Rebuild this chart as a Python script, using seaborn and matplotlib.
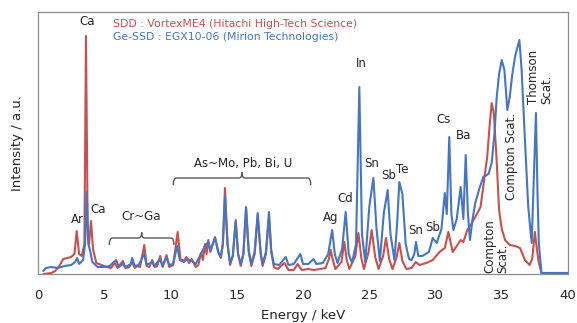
import numpy as np
import pandas as pd
import seaborn as sns
import matplotlib.pyplot as plt
from matplotlib.path import Path
from matplotlib.patches import PathPatch

# spectra (energy in keV, intensity in a.u.)
sdd_energy = [0.4, 1.0, 1.3, 1.6, 1.9, 2.2, 2.5, 2.75, 2.92, 3.1, 3.3, 3.5, 3.62, 3.75, 3.85, 4.0, 4.15,
              4.4, 4.8, 5.2, 5.5, 5.8, 6.0, 6.4, 6.6, 6.9, 7.1, 7.3, 7.5, 7.7, 8.02, 8.2, 8.4, 8.62, 8.8,
              9.0, 9.22, 9.4, 9.7, 9.9, 10.2, 10.54, 10.75, 11.0, 11.2, 11.4, 11.6, 11.9, 12.1, 12.3,
              12.45, 12.6, 12.72, 12.85, 13.0, 13.2, 13.36, 13.6, 13.8, 13.95, 14.11, 14.3, 14.5, 14.7,
              14.92, 15.1, 15.3, 15.5, 15.7, 15.9, 16.1, 16.35, 16.58, 16.8, 16.95, 17.2, 17.43, 17.6,
              17.8, 18.1, 18.6, 18.9, 19.3, 19.6, 19.9, 20.4, 20.8, 21.3, 21.7, 21.95, 22.09, 22.25,
              22.45, 22.9, 23.12, 23.3, 23.5, 23.95, 24.18, 24.4, 24.6, 24.95, 25.18, 25.45, 25.7,
              26.05, 26.26, 26.5, 26.75, 27.05, 27.27, 27.5, 27.8, 28.2, 28.5, 28.8, 29.3, 29.8, 30.3,
              30.7, 30.97, 31.3, 31.6, 31.9, 32.1, 32.4, 32.7, 33.0, 33.4, 33.6, 33.9, 34.1, 34.24,
              34.4, 34.6, 34.8, 35.0, 35.25, 35.6, 36.0, 36.38, 36.75, 37.1, 37.3, 37.5, 37.65, 37.8,
              38.0, 40.0]
sdd_counts = [0, 1, 3, 8, 15, 16, 17, 20, 43, 20, 18, 30, 238, 40, 30, 53, 25,
              11, 9, 7, 6, 11, 6, 13, 6, 7, 12, 6, 8, 7, 29, 8, 7, 14, 7,
              8, 18, 7, 19, 7, 9, 42, 15, 13, 17, 11, 15, 7, 9, 21,
              14, 30, 20, 34, 22, 30, 37, 22, 16, 30, 86, 30, 9, 18,
              54, 20, 8, 20, 66, 22, 8, 20, 59, 20, 8, 20, 57, 22,
              7, 5, 11, 4, 4, 10, 4, 5, 4, 5, 6, 15, 24, 14,
              5, 12, 32, 14, 5, 18, 41, 16, 5, 22, 44, 17, 5,
              18, 36, 15, 5, 16, 31, 13, 5, 6, 12, 9, 11, 14, 22,
              26, 42, 22, 28, 34, 32, 44, 50, 57, 67, 87, 117, 151, 171,
              161, 117, 64, 45, 34, 29, 28, 26, 14, 9, 15, 42, 25, 11,
              1, 1]

ge_energy = [0.4, 0.6, 1.0, 1.5, 2.0, 2.5, 2.8, 2.95, 3.1, 3.4, 3.55, 3.67, 3.8, 3.95, 4.1, 4.5, 5.0,
             5.4, 5.9, 6.1, 6.4, 6.6, 7.0, 7.1, 7.3, 7.6, 8.0, 8.2, 8.6, 8.8, 9.2, 9.4, 9.7, 9.9,
             10.2, 10.5, 10.7, 11.0, 11.3, 11.6, 11.9, 12.3, 12.6, 12.85, 13.0, 13.36, 13.6, 13.8,
             13.95, 14.11, 14.3, 14.5, 14.7, 14.92, 15.1, 15.3, 15.5, 15.7, 15.9, 16.1, 16.35, 16.58,
             16.8, 16.95, 17.2, 17.43, 17.6, 17.8, 18.2, 18.7, 18.9, 19.3, 19.8, 20.0, 20.4, 20.8,
             21.0, 21.5, 21.9, 22.2, 22.4, 22.6, 22.95, 23.22, 23.45, 23.7, 24.0, 24.25, 24.45, 24.7,
             25.0, 25.31, 25.55, 25.8, 26.1, 26.39, 26.6, 26.9, 27.1, 27.27, 27.5, 27.75, 28.0, 28.2,
             28.4, 28.53, 28.7, 29.0, 29.5, 29.79, 30.09, 30.45, 30.7, 30.85, 31.04, 31.2, 31.35,
             31.6, 31.9, 32.1, 32.28, 32.45, 32.6, 32.8, 33.0, 33.3, 33.6, 34.0, 34.24, 34.45, 34.62,
             34.8, 35.0, 35.2, 35.42, 35.6, 35.8, 36.0, 36.15, 36.33, 36.5, 36.75, 37.0, 37.26,
             37.45, 37.58, 37.7, 37.8, 38.0, 40.0]
ge_counts = [3, 6, 7, 6, 8, 9, 12, 16, 10, 14, 30, 82, 30, 22, 12, 7, 7,
             8, 14, 7, 10, 7, 10, 16, 8, 9, 20, 9, 12, 8, 15, 8, 17, 9,
             10, 28, 14, 12, 15, 13, 10, 20, 28, 32, 24, 36, 22, 17,
             30, 78, 30, 11, 18, 52, 20, 10, 20, 67, 24, 10, 22, 61,
             22, 10, 22, 62, 24, 10, 9, 17, 9, 10, 20, 10, 10, 15,
             10, 11, 20, 44, 20, 11, 25, 62, 20, 11, 30, 187, 40, 12,
             67, 96, 45, 13, 61, 84, 40, 14, 50, 92, 80, 30, 15, 14,
             20, 32, 18, 18, 22, 36, 31, 45, 81, 60, 137, 60, 44,
             55, 87, 55, 119, 60, 34, 55, 71, 85, 97, 100, 111, 140, 177,
             200, 214, 204, 164, 177, 200, 217, 225, 234, 204, 134, 67, 31,
             110, 161, 80, 30, 1, 1]

# peak labels: text, energy, intensity, rotation
peak_labels = ["Ca", "Ar", "Ca", "Cr~Ga", "As~Mo, Pb, Bi, U", "Ag", "Cd", "In", "Sn", "Sb", "Te",
               "Sn", "Sb", "Cs", "Ba", "Compton Scat.", "Compton\nScat.", "Thomson\nScat."]
label_energy = [3.74, 2.95, 4.5, 7.77, 15.47, 22.1, 23.2, 24.38, 25.2, 26.5, 27.47,
                28.53, 29.8, 30.64, 32.15, 35.77, 34.57, 37.89]
label_counts = [253, 55, 65, 58, 111, 57, 76, 211, 111, 99, 105,
                44, 47, 155, 139, 118, 28, 197]
label_rotation = [0, 0, 0, 0, 0, 0, 0, 0, 0, 0, 0, 0, 0, 0, 0, 90, 90, 90]

# braces grouping element ranges: start, end, height
brace_start = [5.38, 10.21]
brace_end = [10.26, 20.58]
brace_height = [36, 96]

red = "#C8504E"
blue = "#4676C3"

df = pd.concat([
    pd.DataFrame({"energy": sdd_energy, "counts": sdd_counts, "det": "SDD"}),
    pd.DataFrame({"energy": ge_energy, "counts": ge_counts, "det": "Ge-SSD"}),
])

sns.set_style("white")
plt.rcParams["font.family"] = ["DejaVu Sans"]

fig = plt.figure(figsize=(5.77, 3.23), dpi=100)
ax = fig.add_axes([0.0659, 0.1517, 0.9185, 0.8111])

sns.lineplot(data=df, x="energy", y="counts", hue="det", palette={"SDD": red, "Ge-SSD": blue},
             hue_order=["SDD", "Ge-SSD"], estimator=None, sort=False, lw=1.5, legend=False, ax=ax)

for t, e, c, r in zip(peak_labels, label_energy, label_counts, label_rotation):
    if r == 0:
        ax.text(e, c, t, ha="center", va="center", fontsize=8.5, color="#262626")
    else:
        ax.text(e, c, t, ha="center", va="center", fontsize=8.5, color="#262626",
                rotation=90, multialignment="left", linespacing=1.0)


def brace(x0, x1, y, dx=0.22, dy=7):
    # curly brace: rounded ends going down, small point in the middle going up
    xm = (x0 + x1) / 2
    verts = [(x0, y - dy), (x0, y), (x0 + dx, y),
             (xm - dx, y), (xm, y), (xm, y + dy * 0.8),
             (xm, y), (xm + dx, y),
             (x1 - dx, y), (x1, y), (x1, y - dy)]
    codes = [Path.MOVETO, Path.CURVE3, Path.CURVE3,
             Path.LINETO, Path.CURVE3, Path.CURVE3,
             Path.MOVETO, Path.CURVE3,
             Path.LINETO, Path.CURVE3, Path.CURVE3]
    codes[6] = Path.MOVETO
    verts[6] = (xm, y + dy * 0.8)
    verts[7] = (xm, y)
    verts.insert(8, (xm + dx, y))
    codes.insert(8, Path.CURVE3)
    ax.add_patch(PathPatch(Path(verts, codes), fill=False, ec="#595959", lw=1.0))


for b0, b1, bh in zip(brace_start, brace_end, brace_height):
    brace(b0, b1, bh)

ax.text(0.142, 0.955, "SDD : VortexME4 (Hitachi High-Tech Science)", transform=ax.transAxes,
        color=red, fontsize=7.8, va="center")
ax.text(0.142, 0.905, "Ge-SSD : EGX10-06 (Mirion Technologies)", transform=ax.transAxes,
        color=blue, fontsize=7.8, va="center")

ax.set_xlim(0, 40)
ax.set_ylim(0, 262)
ax.set_xticks(np.arange(0, 41, 5))
ax.set_yticks([])
ax.tick_params(axis="x", direction="out", length=3, width=0.8, color="#888888",
               labelsize=9.5, pad=8, labelcolor="#262626")
for s in ax.spines.values():
    s.set_color("#8c8c8c")
    s.set_linewidth(0.9)

ax.set_xlabel("Energy / keV", fontsize=9.5, color="#262626")
ax.set_ylabel("Intensity / a.u.", fontsize=9.5, color="#262626")
ax.xaxis.set_label_coords(0.5, -0.133)
ax.yaxis.set_label_coords(-0.026, 0.5)
ax.xaxis.label.set_va("top")

fig.savefig("out.png", dpi=100)
